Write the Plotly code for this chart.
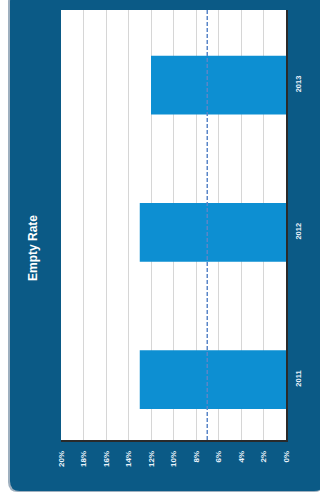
import plotly.graph_objects as go

# Empty rate by year (percent) and the target reference level
years = ["2011", "2012", "2013"]
empty_rate = [13.0, 13.0, 12.0]
target_rate = 7.0

tick_values = [0, 2, 4, 6, 8, 10, 12, 14, 16, 18, 20]
tick_labels = ["0%", "2%", "4%", "6%", "8%", "10%", "12%", "14%", "16%", "18%", "20%"]

W, H = 320, 499
L, R, T, B = 61, 34, 10, 59
PW, PH = W - L - R, H - T - B


def px(x):
    return (x - L) / PW


def py(y):
    return (H - B - y) / PH


def rounded_rect(x0, y0, x1, y1, r):
    a0, a1 = px(x0), px(x1)
    b0, b1 = py(y0), py(y1)
    rx, ry = r / PW, r / PH
    return (
        f"M {a0 + rx} {b0} L {a1 - rx} {b0} Q {a1} {b0} {a1} {b0 - ry} "
        f"L {a1} {b1 + ry} Q {a1} {b1} {a1 - rx} {b1} "
        f"L {a0 + rx} {b1} Q {a0} {b1} {a0} {b1 + ry} "
        f"L {a0} {b0 - ry} Q {a0} {b0} {a0 + rx} {b0} Z"
    )


panel = "#0b5a86"
fig = go.Figure()
fig.add_trace(go.Bar(
    y=years, x=empty_rate, orientation="h",
    marker=dict(color="#0d8fd2", line=dict(width=0)),
    hoverinfo="skip",
))

fig.update_layout(
    width=W, height=H,
    margin=dict(l=L, r=R, t=T, b=B),
    paper_bgcolor="white",
    plot_bgcolor="white",
    showlegend=False,
    bargap=0.6,
    font=dict(family="Liberation Sans, Arial, sans-serif"),
    shapes=[
        dict(type="path", xref="paper", yref="paper", layer="below",
             path=rounded_rect(8, -8, 324, 492, 10),
             fillcolor="#9fb0bf", line=dict(width=0)),
        dict(type="path", xref="paper", yref="paper", layer="below",
             path=rounded_rect(10, -8, 324, 491, 10),
             fillcolor=panel, line=dict(width=0)),
        dict(type="rect", xref="paper", yref="paper", layer="below",
             x0=0, x1=1, y0=0, y1=1, fillcolor="white", line=dict(width=0)),
        dict(type="line", xref="x", yref="y domain",
             x0=target_rate, x1=target_rate, y0=0, y1=1,
             line=dict(color="#5a86c8", width=1.5, dash="4px,2px")),
    ],
    annotations=[
        dict(text="<b>Empty Rate</b>", xref="paper", yref="paper",
             x=px(33), y=py(248), xanchor="center", yanchor="middle",
             showarrow=False, textangle=-90,
             font=dict(size=12, color="white")),
    ],
)

fig.update_xaxes(
    range=[20, 0], tickvals=tick_values,
    ticktext=[f"<b>{t}</b>" for t in tick_labels],
    tickangle=-90, tickfont=dict(size=8, color="#eaf2fa"),
    showgrid=True, gridcolor="#d6d6d6", gridwidth=1,
    zeroline=False, showline=True, linecolor="#2a2a2a", linewidth=1.5,
    ticks="outside", ticklen=6, tickcolor="rgba(0,0,0,0)", fixedrange=True,
)
fig.update_yaxes(
    range=[-0.41, 2.51], side="right",
    tickvals=years, ticktext=[f"<b>{y}</b>" for y in years],
    tickangle=-90, tickfont=dict(size=7.5, color="#eaf2fa"),
    showgrid=False, zeroline=False, showline=True,
    linecolor="#2a2a2a", linewidth=1.5,
    ticks="outside", ticklen=4, tickcolor="rgba(0,0,0,0)", fixedrange=True,
)

fig.write_html("out.html", config={"displayModeBar": False})
